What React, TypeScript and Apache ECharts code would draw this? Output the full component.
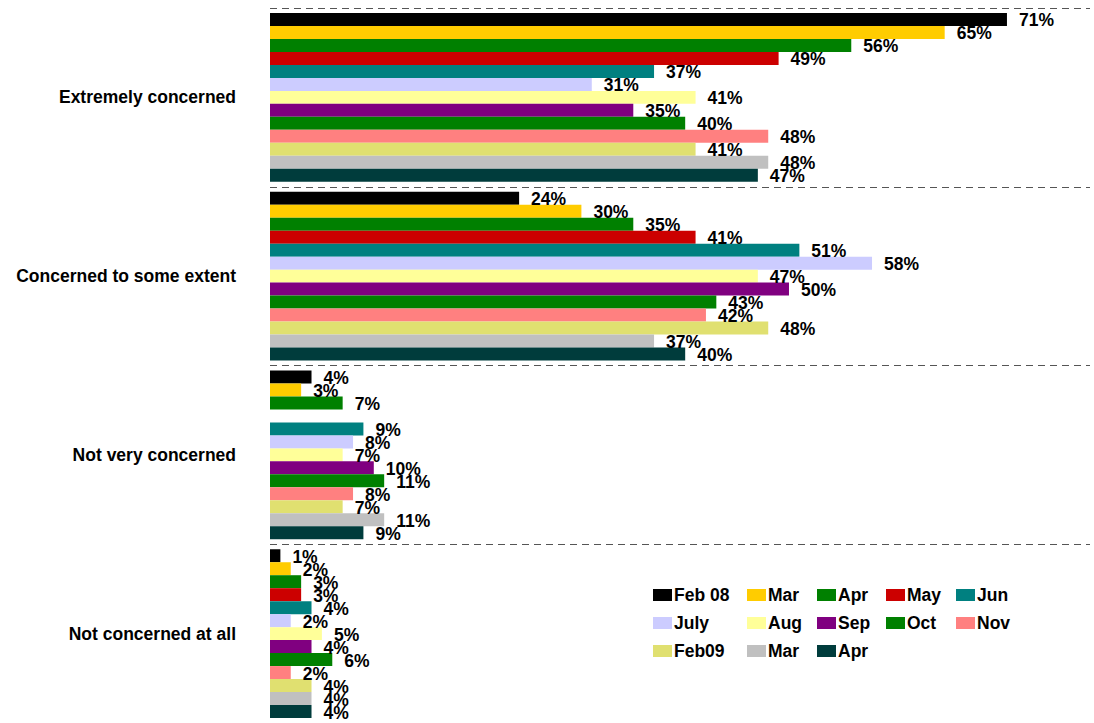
import React, { useEffect, useRef } from "react";
import * as echarts from "echarts";

const categories = [
  "Extremely concerned",
  "Concerned to some extent",
  "Not very concerned",
  "Not concerned at all",
];

const seriesKeys = ["Feb 08", "Mar 08", "Apr 08", "May 08", "Jun 08", "July 08", "Aug 08", "Sep 08", "Oct 08", "Nov 08", "Feb09", "Mar 09", "Apr 09"];
const seriesLabels = ["Feb 08", "Mar", "Apr", "May", "Jun", "July", "Aug", "Sep", "Oct", "Nov", "Feb09", "Mar", "Apr"];
const seriesColors = ["#000000", "#FFCC00", "#008000", "#CC0000", "#008080", "#CCCCFF", "#FFFF99", "#800080", "#008000", "#FF8080", "#E0E070", "#C0C0C0", "#003C3C"];

const feb08 = [71, 24, 4, 1];
const mar08 = [65, 30, 3, 2];
const apr08 = [56, 35, 7, 3];
const may08 = [49, 41, null, 3];
const jun08 = [37, 51, 9, 4];
const jul08 = [31, 58, 8, 2];
const aug08 = [41, 47, 7, 5];
const sep08 = [35, 50, 10, 4];
const oct08 = [40, 43, 11, 6];
const nov08 = [48, 42, 8, 2];
const feb09 = [41, 48, 7, 4];
const mar09 = [48, 37, 11, 4];
const apr09 = [47, 40, 9, 4];

const seriesValues = [feb08, mar08, apr08, may08, jun08, jul08, aug08, sep08, oct08, nov08, feb09, mar09, apr09];

// legend columns (indices into series)
const legendColumns = [
  [0, 5, 10],
  [1, 6, 11],
  [2, 7, 12],
  [3, 8],
  [4, 9],
];
const legendLefts = [653, 747, 817, 886, 956];

const FONT = "Arial, 'Liberation Sans', Helvetica, sans-serif";
const FS = 17.5;

export default function App() {
  const ref = useRef<HTMLDivElement>(null);
  useEffect(() => {
    if (!ref.current) return;
    const chart = echarts.init(ref.current, undefined, { renderer: "svg" });
    const labelMap: Record<string, string> = {};
    seriesKeys.forEach((k, i) => (labelMap[k] = seriesLabels[i]));

    const option: any = {
      animation: false,
      backgroundColor: "#ffffff",
      grid: { left: 270, top: 8, width: 820, height: 716, containLabel: false },
      xAxis: {
        type: "value",
        min: 0,
        max: 79,
        show: false,
        splitLine: { show: false },
      },
      yAxis: {
        type: "category",
        data: categories,
        inverse: true,
        axisLine: { show: false },
        axisTick: { show: false },
        axisLabel: {
          margin: 34,
          color: "#000",
          fontFamily: FONT,
          fontWeight: "bold",
          fontSize: FS,
        },
        splitLine: {
          show: true,
          lineStyle: { color: "#555", type: [7, 5], width: 1 },
        },
      },
      legend: legendColumns.map((col, ci) => ({
        orient: "vertical",
        left: legendLefts[ci],
        top: 586,
        padding: 0,
        itemWidth: 19,
        itemHeight: 12,
        itemGap: 10,
        icon: "rect",
        selectedMode: false,
        data: col.map((i) => seriesKeys[i]),
        formatter: (name: string) => labelMap[name],
        textStyle: {
          color: "#000",
          fontFamily: FONT,
          fontWeight: "bold",
          fontSize: FS,
          lineHeight: 16,
          padding: [0, 0, 0, -3],
        },
      })),
      series: seriesKeys.map((name, i) => ({
        name,
        type: "bar",
        data: seriesValues[i],
        barGap: "0%",
        barCategoryGap: "5.6%",
        itemStyle: { color: seriesColors[i] },
        label: {
          show: true,
          position: "right",
          distance: 12,
          offset: [0, 1],
          formatter: "{c}%",
          color: "#000",
          fontFamily: FONT,
          fontWeight: "bold",
          fontSize: FS,
        },
      })),
    };
    chart.setOption(option);
    return () => chart.dispose();
  }, []);
  return (
    <div
      ref={ref}
      style={{ position: "fixed", left: 0, top: 0, width: 1094, height: 723 }}
    />
  );
}
